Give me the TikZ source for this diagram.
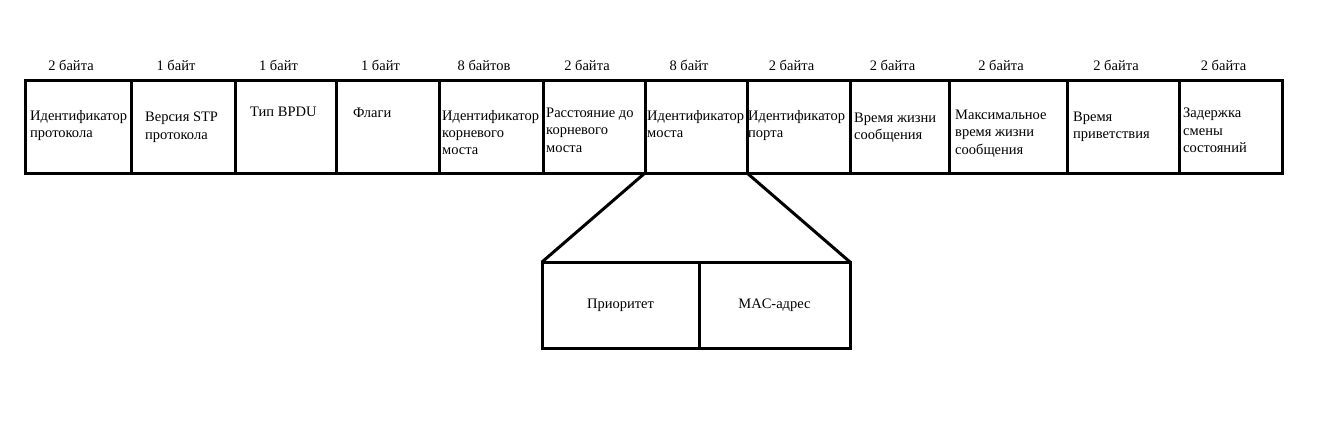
\documentclass[tikz,border=0pt]{standalone}
\usepackage{fontspec}
\setmainfont{Liberation Serif}
\usetikzlibrary{positioning}

\begin{document}
\begin{tikzpicture}[
  x=1pt, y=-1pt,
  font=\fontsize{14.5}{17.2}\selectfont,
  cell/.style={
    rectangle, draw, line width=3pt,
    minimum height=93pt, inner sep=0pt, outer sep=0pt
  },
  fieldtxt/.style={anchor=north west, inner sep=0pt, align=left, yshift=-30pt},
  bytes/.style={anchor=south, inner sep=0pt, yshift=9pt, xshift=-7pt},
  subcell/.style={
    rectangle, draw, line width=3pt,
    minimum height=86pt, inner sep=0pt, outer sep=0pt
  },
  link/.style={line width=3pt}
]
\useasboundingbox (0,0) rectangle (1318,429);

\node[cell, minimum width=106pt, anchor=north west,
  label={[bytes]north:2 байта},
  label={[fieldtxt, xshift=5pt]north west:{Идентификатор\\протокола}}] (proto) at (25,80) {};
\node[cell, minimum width=104pt, right=0pt of proto,
  label={[bytes]north:1 байт},
  label={[fieldtxt, xshift=14pt, yshift=-2pt]north west:{Версия STP\\протокола}}] (ver) {};
\node[cell, minimum width=101pt, right=0pt of ver,
  label={[bytes]north:1 байт},
  label={[fieldtxt, xshift=15pt, yshift=3pt]north west:{Тип BPDU}}] (type) {};
\node[cell, minimum width=103pt, right=0pt of type,
  label={[bytes]north:1 байт},
  label={[fieldtxt, xshift=17pt, yshift=2pt]north west:{Флаги}}] (flags) {};
\node[cell, minimum width=104pt, right=0pt of flags,
  label={[bytes]north:8 байтов},
  label={[fieldtxt, xshift=3pt]north west:{Идентификатор\\корневого\\моста}}] (rootid) {};
\node[cell, minimum width=102pt, right=0pt of rootid,
  label={[bytes]north:2 байта},
  label={[fieldtxt, xshift=3pt, yshift=2pt]north west:{Расстояние до\\корневого\\моста}}] (cost) {};
\node[cell, minimum width=102pt, right=0pt of cost,
  label={[bytes]north:8 байт},
  label={[fieldtxt, xshift=2pt]north west:{Идентификатор\\моста}}] (bridge) {};
\node[cell, minimum width=103pt, right=0pt of bridge,
  label={[bytes]north:2 байта},
  label={[fieldtxt, xshift=1pt]north west:{Идентификатор\\порта}}] (port) {};
\node[cell, minimum width=99pt, right=0pt of port,
  label={[bytes]north:2 байта},
  label={[fieldtxt, xshift=4pt, yshift=-3pt]north west:{Время жизни\\сообщения}}] (age) {};
\node[cell, minimum width=118pt, right=0pt of age,
  label={[bytes]north:2 байта},
  label={[fieldtxt, xshift=6pt]north west:{Максимальное\\время жизни\\сообщения}}] (maxage) {};
\node[cell, minimum width=112pt, right=0pt of maxage,
  label={[bytes]north:2 байта},
  label={[fieldtxt, xshift=6pt, yshift=-2pt]north west:{Время\\приветствия}}] (hello) {};
\node[cell, minimum width=103pt, right=0pt of hello,
  label={[bytes]north:2 байта},
  label={[fieldtxt, xshift=4pt, yshift=2pt]north west:{Задержка\\смены\\состояний}}] (delay) {};

\node[subcell, minimum width=157pt, anchor=north west] (prio) at (542,262) {Приоритет};
\node[subcell, minimum width=151pt, right=0pt of prio] (mac) {MAC-адрес};

\draw[link] (bridge.south west) -- (prio.north west);
\draw[link] (bridge.south east) -- (mac.north east);

\end{tikzpicture}
\end{document}
